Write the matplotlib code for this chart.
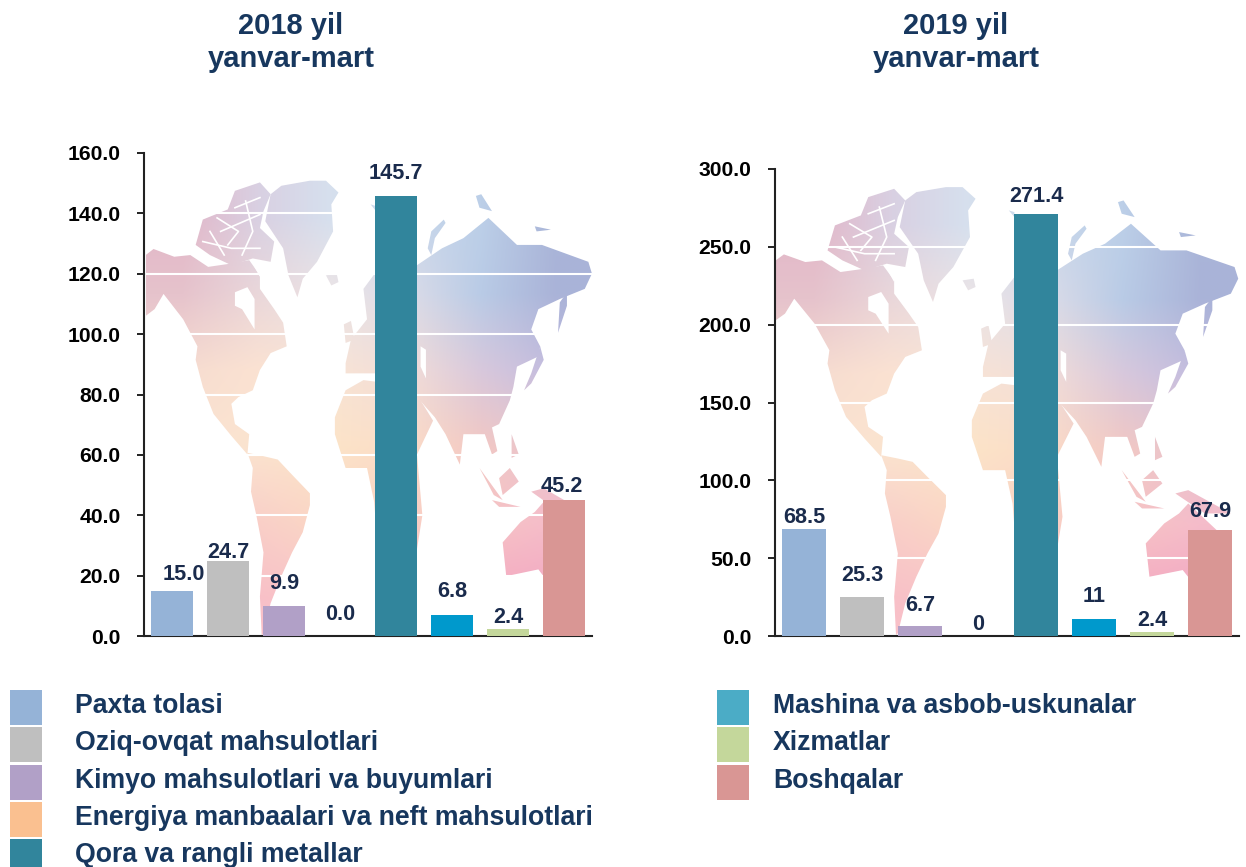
# -*- coding: utf-8 -*-
import numpy as np
import matplotlib
matplotlib.use("Agg")
import matplotlib.pyplot as plt
from matplotlib.patches import Polygon, Rectangle

plt.rcParams['font.family'] = ['Liberation Sans', 'DejaVu Sans']
plt.rcParams['font.weight'] = 'bold'

W, H = 1246, 867

# data
categories = ["Paxta tolasi", "Oziq-ovqat mahsulotlari", "Kimyo mahsulotlari va buyumlari",
              "Energiya manbaalari va neft mahsulotlari", "Qora va rangli metallar",
              "Mashina va asbob-uskunalar", "Xizmatlar", "Boshqalar"]
values_2018 = [15.0, 24.7, 9.9, 0.0, 145.7, 6.8, 2.4, 45.2]
values_2019 = [68.5, 25.3, 6.7, 0.0, 271.4, 11.0, 2.4, 67.9]
labels_2018 = ["15.0", "24.7", "9.9", "0.0", "145.7", "6.8", "2.4", "45.2"]
labels_2019 = ["68.5", "25.3", "6.7", "0", "271.4", "11", "2.4", "67.9"]
ticks_2018 = [0, 20, 40, 60, 80, 100, 120, 140, 160]
ticks_2019 = [0, 50, 100, 150, 200, 250, 300]
bar_colors = ["#95B3D7", "#BFBFBF", "#B1A0C7", "#FAC090", "#31859C", "#0099CC", "#C4D79B", "#D99694"]
legend_colors = ["#95B3D7", "#BFBFBF", "#B1A0C7", "#FAC090", "#31859C", "#4BACC6", "#C4D79B", "#D99694"]

# label placement, pixels: gap from bar top to label centre, and sideways shift
gap_2018 = [16, 9, 23, 22, 23, 24, 11, 13]
shift_2018 = [12, 0, 0, 0, 0, 0, 0, -2]
gap_2019 = [12, 21, 20, 11, 17, 22, 12, 19]
shift_2019 = [0, 0, 0, 0, 0, 0, 0, 0]

# background world map outlines, traced in a 1560 wide sketch space
land = [
    [(240,370),(262,352),(320,375),(365,370),(415,405),(480,395),(530,385),(560,430),(560,470),(600,530),
     (625,570),(635,640),(590,660),(560,710),(540,770),(500,790),(480,810),(490,870),(530,900),(525,960),
     (480,905),(430,840),(400,760),(380,680),(385,640),(345,560),(290,485),(265,530),(240,550)],
    [(380,340),(400,265),(470,235),(490,180),(560,155),(590,190),(570,240),(560,290),(600,330),(590,390),
     (540,380),(480,400),(420,370)],
    [(590,190),(620,165),(700,150),(745,150),(780,185),(760,220),(765,300),(720,390),(680,440),(665,495),
     (640,430),(625,350),(575,270)],
    [(745,430),(775,425),(780,450),(760,460)],
    [(525,955),(570,965),(610,975),(650,1020),(700,1075),(700,1110),(680,1190),(650,1250),(620,1320),
     (590,1400),(570,1490),(565,1495),(560,1380),(570,1250),(550,1140),(535,1070),(540,1000)],
    [(770,850),(800,770),(850,740),(1000,760),(1010,800),(1045,860),(1000,960),(1015,1140),(1000,1240),
     (890,1240),(880,1100),(860,1000),(800,1000),(770,900)],
    [(800,690),(815,620),(860,560),(850,470),(885,420),(1000,400),(1070,350),(1130,320),(1200,260),(1280,340),
     (1350,340),(1480,390),(1490,425),(1470,470),(1400,500),(1340,530),(1320,590),(1345,640),(1340,670),
     (1280,700),(1270,760),(1260,800),(1230,870),(1210,880),(1225,950),(1210,960),(1190,900),(1130,900),
     (1120,990),(1080,900),(1050,850),(1000,790),(1000,740),(960,720),(885,720),(800,720)],
    [(1400,510),(1420,480),(1420,520),(1395,600)],
    [(1345,640),(1355,680),(1320,750),(1300,770),(1320,720)],
    [(1040,300),(1075,265),(1080,275),(1050,320),(1040,370),(1030,350)],
    [(870,220),(885,225),(885,240)],
    [(1165,195),(1180,190),(1210,240),(1175,230)],
    [(1330,285),(1375,295),(1335,300)],
    [(1175,1000),(1240,1095),(1215,1080)],
    [(1230,1030),(1260,1000),(1285,1040),(1240,1080)],
    [(1210,1095),(1290,1115),(1230,1115)],
    [(1320,1070),(1355,1060),(1470,1130),(1400,1130)],
    [(1265,900),(1285,960),(1265,970)],
    [(1240,1220),(1290,1160),(1330,1130),(1355,1100),(1470,1220),(1470,1350),(1390,1370),(1340,1300),(1250,1320)],
    [(795,575),(815,565),(825,620),(800,630)],
]
lakes = [
    [(490,480),(525,465),(545,500),(545,590),(510,530),(490,520)],
    [(1010,640),(1025,650),(1025,735),(1010,700)],
]
channels = [
    [(440,260),(500,300),(470,340)], [(520,210),(540,300),(510,370)], [(400,330),(480,350),(560,350)],
    [(450,300),(560,250)], [(540,390),(560,430)], [(420,300),(460,370)], [(490,230),(560,200)],
]
map_colors = [
    ["#e2b6c8", "#d9d0e2", "#d6e0ee", "#c8d8ec", "#bccfe8", "#a9b5d8"],
    ["#e6c3cc", "#ead7da", "#ece4e6", "#dcdce8", "#b9cbe6", "#aab3d8"],
    ["#f6dcd0", "#fbe2d2", "#f8e4d6", "#f2ddd8", "#d8c8dc", "#c2bcdf"],
    ["#fbe3d2", "#fbe4cf", "#fce4c8", "#fbdcc8", "#f2c8c4", "#e6c4d0"],
    ["#fad4cc", "#f9cfc8", "#fbd8c4", "#f9d0c4", "#f7c4c4", "#f5bcca"],
    ["#f8c0c8", "#f8c0c8", "#f8c4c8", "#f8c0c8", "#f4aac2", "#f2a8c2"],
]


def hex2rgb(c):
    return [int(c[i:i + 2], 16) / 255 for i in (1, 3, 5)]


fig = plt.figure(figsize=(W / 100, H / 100), dpi=100)
bg = fig.add_axes([0, 0, 1, 1], zorder=0)
bg.set_xlim(0, W)
bg.set_ylim(H, 0)
bg.axis('off')

colour_field = np.array([[hex2rgb(c) for c in row] for row in map_colors])


def draw_map(x0, y0, sx, sy):
    # x0, y0, sx, sy take sketch space to figure pixels
    def conv(pts):
        return [(x0 + sx * a, y0 + sy * b) for a, b in pts]
    extent = (x0 + sx * 240, x0 + sx * 1490, y0 + sy * 1500, y0 + sy * 150)
    for pts in land:
        clip = Polygon(conv(pts), closed=True, transform=bg.transData, fc='none', ec='none')
        bg.add_patch(clip)
        im = bg.imshow(colour_field, extent=extent, interpolation='bilinear', aspect='auto', zorder=1)
        im.set_clip_path(clip)
    for pts in lakes:
        bg.add_patch(Polygon(conv(pts), closed=True, fc='white', ec='none', zorder=2))
    for pts in channels:
        p = np.array(conv(pts))
        bg.plot(p[:, 0], p[:, 1], color='white', lw=1.2, zorder=2)


draw_map(60, 130, 0.357, 0.338)
draw_map(775 - 238 * 0.37, 636 - 1498 * 0.333, 0.37, 0.333)
bg.set_xlim(0, W)
bg.set_ylim(H, 0)


def draw_bars(left, right, top, bottom, values, labels, ticks, ymax, gaps, shifts):
    ax = fig.add_axes([left / W, 1 - bottom / H, (right - left) / W, (bottom - top) / H], zorder=2)
    ax.patch.set_alpha(0)
    x = np.arange(len(values))
    ax.bar(x, values, width=0.75, color=bar_colors, zorder=3)
    ax.set_xlim(-0.5, 7.5)
    ax.set_ylim(0, ymax)
    ax.set_xticks([])
    ax.set_yticks(ticks)
    ax.set_yticklabels(["%.1f" % t for t in ticks], fontsize=15.2, fontweight='bold', color='black')
    ax.tick_params(axis='y', length=5, width=1.4, pad=12, color='#222222')
    ax.grid(axis='y', color='white', lw=1.5, zorder=1)
    ax.set_axisbelow(True)
    for s in ['top', 'right']:
        ax.spines[s].set_visible(False)
    for s in ['left', 'bottom']:
        ax.spines[s].set_linewidth(1.5)
        ax.spines[s].set_color('#222222')
    for i, v in enumerate(values):
        ax.annotate(labels[i], (x[i], v), xytext=(shifts[i] * 0.72, gaps[i] * 0.72),
                    textcoords='offset points', ha='center', va='center',
                    fontsize=15.6, fontweight='bold', color='#1A2B4C', zorder=5)
    return ax


draw_bars(144, 592, 153, 636, values_2018, labels_2018, ticks_2018, 160, gap_2018, shift_2018)
draw_bars(775, 1239, 169, 636, values_2019, labels_2019, ticks_2019, 300, gap_2019, shift_2019)

title_color = '#17375E'
bg.text(291, 26, "2018 yil", ha='center', va='center', fontsize=21, color=title_color)
bg.text(291, 59, "yanvar-mart", ha='center', va='center', fontsize=21, color=title_color)
bg.text(956, 26, "2019 yil", ha='center', va='center', fontsize=21, color=title_color)
bg.text(956, 59, "yanvar-mart", ha='center', va='center', fontsize=21, color=title_color)

# legend
rows_y = [690, 727, 765, 802, 839]
for i in range(5):
    bg.add_patch(Rectangle((10, rows_y[i]), 32, 35, fc=legend_colors[i], ec='none', zorder=3))
    bg.text(75, rows_y[i] + 16, categories[i], ha='left', va='center', fontsize=19.2, color=title_color, zorder=3)
for i in range(3):
    bg.add_patch(Rectangle((717, rows_y[i]), 32, 35, fc=legend_colors[i + 5], ec='none', zorder=3))
    bg.text(773, rows_y[i] + 16, categories[i + 5], ha='left', va='center', fontsize=19.2, color=title_color, zorder=3)

fig.savefig('out.png', dpi=100)
